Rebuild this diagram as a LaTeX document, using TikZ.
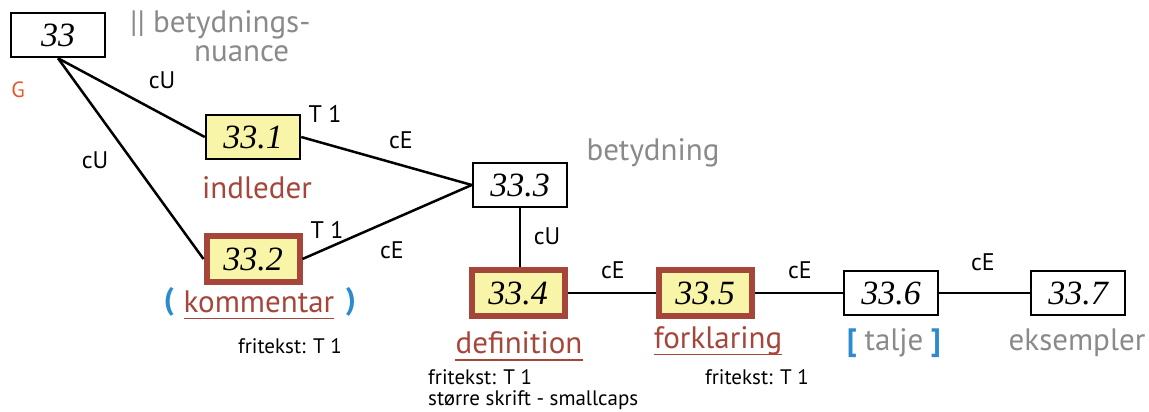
\documentclass[tikz,border=0pt]{standalone}
\usepackage{fontspec}
\setmainfont{PT Sans}
\newfontfamily\numfont{Liberation Serif}
\definecolor{brn}{HTML}{A6463B}
\definecolor{yel}{HTML}{F8F4A8}
\definecolor{gry}{HTML}{8A8A8A}
\definecolor{blu}{HTML}{2B8BD0}
\definecolor{org}{HTML}{E8552A}
\begin{document}
\begin{tikzpicture}[x=1pt,y=-1pt,
 box/.style={draw=black, line width=2.5pt, minimum width=94pt, minimum height=44pt, inner sep=0pt, font=\numfont\itshape\fontsize{34}{34}\selectfont},
 ybox/.style={box, fill=yel},
 tbox/.style={box, fill=yel, draw=brn, line width=6pt, minimum width=93pt, minimum height=46pt},
 conn/.style={line width=2.5pt},
 lab/.style={font=\fontsize{24}{24}\selectfont, inner sep=0pt},
 note/.style={font=\fontsize{21}{23}\selectfont, inner sep=0pt},
 big/.style={font=\fontsize{31}{31}\selectfont, inner sep=0pt},
 brk/.style={inner sep=0pt, text=blu, font=\bfseries\fontsize{31}{31}\selectfont},
 ul/.style={draw=brn, line width=1.5pt},
]
\useasboundingbox (0,0) rectangle (1149,412);
% boxes
\node[box] (n33) at (58,35) {33};
\node[ybox] (n331) at (253,137) {33.1};
\node[tbox] (n332) at (253,259) {33.2};
\node[box] (n333) at (520,185) {33.3};
\node[tbox] (n334) at (518,293) {33.4};
\node[tbox] (n335) at (705,293) {33.5};
\node[box] (n336) at (891,293) {33.6};
\node[box] (n337) at (1078,293) {33.7};
% connectors
\draw[conn] (n33.south) -- (n331.west);
\draw[conn] (n33.south) -- (n332.west);
\draw[conn] (n331.east) -- (n333.west);
\draw[conn] (n332.east) -- (n333.west);
\draw[conn] (n333.south) -- (n333.south |- n334.north);
\draw[conn] (n334.east) -- (n335.west);
\draw[conn] (n335.east) -- (n336.west);
\draw[conn] (n336.east) -- (n337.west);
% labels
\node[big, text=gry, anchor=base west] (tbet) at (130,33) {|| betydnings-};
\node[big, text=gry, anchor=base west] (tnua) at (194,62) {nuance};
\node[lab, text=org, font=\fontsize{22}{22}\selectfont] (tg) at (18,90) {G};
\node[lab] (l1) at (162,80) {cU};
\node[lab] (l2) at (95,160) {cU};
\node[lab] (l3) at (325,114) {T 1};
\node[lab] (l4) at (401,140) {cE};
\node[lab] (l5) at (327,230) {T 1};
\node[lab] (l6) at (392,250) {cE};
\node[lab] (l7) at (547,236) {cU};
\node[lab] (l8) at (613,270) {cE};
\node[lab] (l9) at (800,270) {cE};
\node[lab] (l10) at (983,262) {cE};
\node[big, text=brn] (tind) at (257,188) {indleder};
\node[big, text=gry] (tbetyd) at (653,153) {betydning};
\node[big, text=brn] (tkom) at (259,302) {kommentar};
\node[brk] (pl) at (169,302) {(};
\node[brk] (pr) at (351,302) {)};
\draw[ul] ([yshift=-6pt]tkom.base west) -- ([yshift=-6pt]tkom.base east);
\node[note] (f1) at (290,346) {fritekst: T 1};
\node[big, text=brn] (tdef) at (519,343) {definition};
\draw[ul] ([yshift=-6pt]tdef.base west) -- ([yshift=-6pt]tdef.base east);
\node[note, anchor=west] (f2) at (428,377) {fritekst: T 1};
\node[note, anchor=west] (f3) at (428,400) {større skrift - smallcaps};
\node[big, text=brn] (tfor) at (718,341) {forklaring};
\draw[ul] ([yshift=-6pt]tfor.base west) -- ([yshift=-6pt]tfor.base east);
\node[note] (f4) at (757,377) {fritekst: T 1};
\node[big, text=gry] (ttal) at (894,343) {talje};
\node[brk] (bl) at (852,343) {[};
\node[brk] (br) at (936,343) {]};
\node[big, text=gry] (teks) at (1077,343) {eksempler};
\end{tikzpicture}
\end{document}
